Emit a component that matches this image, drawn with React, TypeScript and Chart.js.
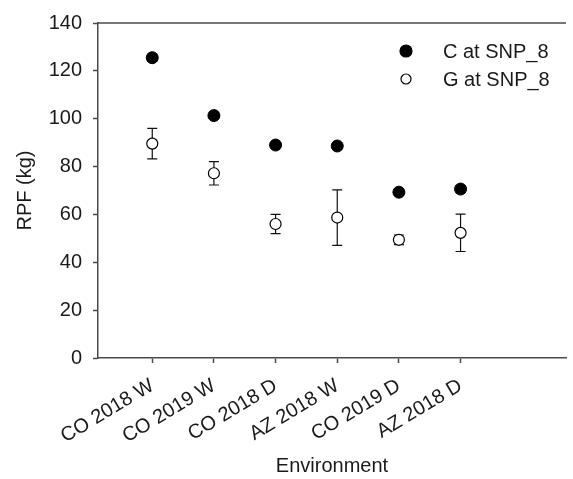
import React, { useEffect, useRef } from "react";
import { Chart, registerables } from "chart.js";
Chart.register(...registerables);

const environments = ["CO 2018 W", "CO 2019 W", "CO 2018 D", "AZ 2018 W", "CO 2019 D", "AZ 2018 D"];
const cValues = [125.5, 101.3, 89.0, 88.6, 69.3, 70.6];
const cErrors = [1.5, 1.2, 1.0, 1.3, 1.0, 1.5];
const gValues = [89.6, 77.2, 56.0, 58.7, 49.4, 52.3];
const gErrors = [6.4, 4.9, 4.0, 11.6, 2.0, 7.8];
const yTicks = [0, 20, 40, 60, 80, 100, 120, 140];
const seriesLabels = ["C at SNP_8", "G at SNP_8"];

const FONT = "'Liberation Sans', Arial, sans-serif";
const TEXT = "#1a1a1a";
const AXIS = "#4a4a4a";

const errorBarPlugin = {
  id: "errorBars",
  beforeDatasetsDraw(chart: any) {
    const { ctx, scales } = chart;
    const x = scales.x, y = scales.y;
    ctx.save();
    ctx.strokeStyle = "#111";
    ctx.lineWidth = 1.2;
    chart.data.datasets.forEach((ds: any) => {
      ds.data.forEach((p: any, j: number) => {
        const e = ds.errors[j];
        const px = x.getPixelForValue(p.x);
        const t = y.getPixelForValue(p.y + e);
        const b = y.getPixelForValue(p.y - e);
        ctx.beginPath();
        ctx.moveTo(px, t);
        ctx.lineTo(px, b);
        ctx.moveTo(px - 5, t);
        ctx.lineTo(px + 5, t);
        ctx.moveTo(px - 5, b);
        ctx.lineTo(px + 5, b);
        ctx.stroke();
      });
    });
    ctx.restore();
  },
};

const framePlugin = {
  id: "frameTop",
  afterDraw(chart: any) {
    const { ctx, chartArea } = chart;
    ctx.save();
    ctx.strokeStyle = AXIS;
    ctx.lineWidth = 1.5;
    ctx.beginPath();
    ctx.moveTo(chartArea.left, chartArea.top);
    ctx.lineTo(chartArea.right, chartArea.top);
    ctx.stroke();
    ctx.restore();
  },
};

const legendPlugin = {
  id: "customLegend",
  afterDraw(chart: any) {
    const { ctx } = chart;
    ctx.save();
    chart.data.datasets.forEach((ds: any, i: number) => {
      const cy = 51 + i * 28;
      ctx.beginPath();
      ctx.arc(406, cy, i === 0 ? 6 : 5, 0, Math.PI * 2);
      ctx.fillStyle = ds.backgroundColor;
      ctx.fill();
      ctx.lineWidth = 1.2;
      ctx.strokeStyle = "#000";
      ctx.stroke();
      ctx.fillStyle = TEXT;
      ctx.font = `20px ${FONT}`;
      ctx.textBaseline = "middle";
      ctx.textAlign = "left";
      ctx.fillText(ds.label, 443, cy + 1);
    });
    ctx.restore();
  },
};

export default function App() {
  const ref = useRef<HTMLCanvasElement | null>(null);
  useEffect(() => {
    if (!ref.current) return;
    const chart = new Chart(ref.current, {
      type: "scatter",
      data: {
        datasets: [
          {
            label: seriesLabels[0],
            data: cValues.map((v, i) => ({ x: i + 1, y: v })),
            errors: cErrors,
            backgroundColor: "#000",
            borderColor: "#000",
            borderWidth: 1,
            pointRadius: 6,
            pointHoverRadius: 6,
          } as any,
          {
            label: seriesLabels[1],
            data: gValues.map((v, i) => ({ x: i + 1, y: v })),
            errors: gErrors,
            backgroundColor: "#fff",
            borderColor: "#000",
            borderWidth: 1.2,
            pointRadius: 5.5,
            pointHoverRadius: 5.5,
          } as any,
        ],
      },
      options: {
        animation: false,
        responsive: false,
        events: [],
        layout: { padding: { top: 22, left: 0, right: 0, bottom: 0 } },
        plugins: { legend: { display: false }, tooltip: { enabled: false } },
        scales: {
          x: {
            type: "linear",
            min: 0.12,
            max: 7.71,
            afterBuildTicks: (scale: any) => {
              scale.ticks = environments.map((_, i) => ({ value: i + 1 }));
            },
            afterFit: (scale: any) => {
              scale.height = 121;
            },
            grid: {
              display: true,
              drawOnChartArea: false,
              drawTicks: true,
              tickLength: 5,
              tickColor: AXIS,
              tickWidth: 1.5,
            },
            border: { display: true, color: AXIS, width: 1.5 },
            ticks: {
              autoSkip: false,
              maxRotation: 31,
              minRotation: 31,
              padding: 11,
              color: TEXT,
              font: { family: FONT, size: 20 },
              callback: (v: any) => environments[Math.round(Number(v)) - 1] ?? "",
            },
            title: {
              display: true,
              text: "Environment",
              color: TEXT,
              font: { family: FONT, size: 20 },
              padding: { top: 0, bottom: 1 },
            },
          },
          y: {
            type: "linear",
            min: 0,
            max: 140,
            afterBuildTicks: (scale: any) => {
              scale.ticks = yTicks.map((v) => ({ value: v }));
            },
            afterFit: (scale: any) => {
              scale.width = 98;
            },
            grid: {
              display: true,
              drawOnChartArea: false,
              drawTicks: true,
              tickLength: 5,
              tickColor: AXIS,
              tickWidth: 1.5,
            },
            border: { display: true, color: AXIS, width: 1.5 },
            ticks: {
              padding: 11,
              color: TEXT,
              font: { family: FONT, size: 20 },
            },
            title: {
              display: true,
              text: "RPF (kg)",
              color: TEXT,
              font: { family: FONT, size: 20 },
              padding: { top: 13, bottom: 0 },
            },
          },
        },
      } as any,
      plugins: [errorBarPlugin, framePlugin, legendPlugin],
    });
    return () => chart.destroy();
  }, []);
  return (
    <div style={{ position: "fixed", left: 0, top: 0, width: 573, height: 479, background: "#fff" }}>
      <canvas ref={ref} width={573} height={479} />
    </div>
  );
}
